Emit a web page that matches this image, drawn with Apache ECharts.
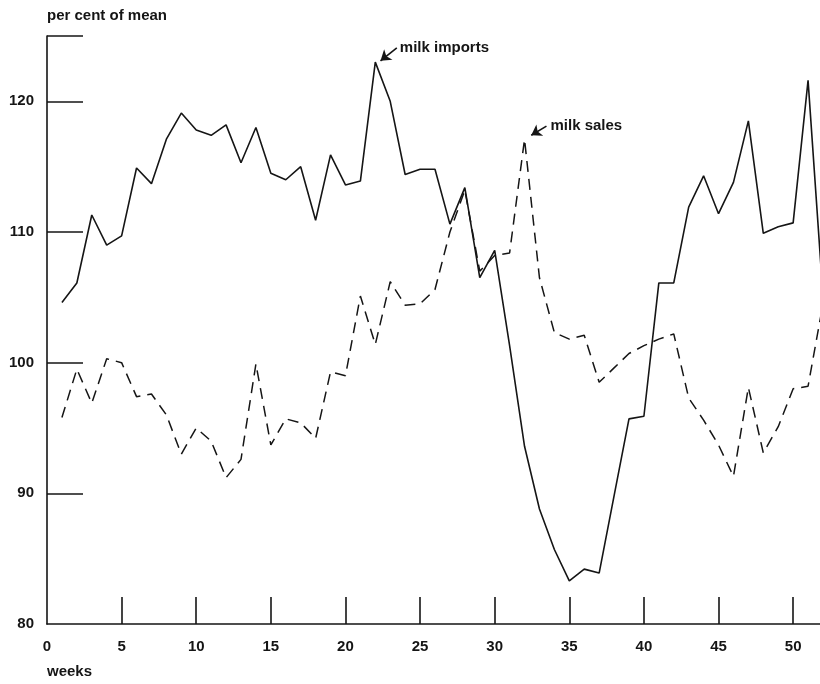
<!DOCTYPE html>
<html>
<head>
<meta charset="utf-8">
<script src="https://cdn.jsdelivr.net/npm/echarts@6/dist/echarts.min.js"></script>
<style>
  html, body { margin: 0; padding: 0; background: #fff; }
  #chart { width: 820px; height: 684px; }
</style>
</head>
<body>
<div id="chart"></div>
<script>
const weeks = [1,2,3,4,5,6,7,8,9,10,11,12,13,14,15,16,17,18,19,20,21,22,23,24,25,26,
               27,28,29,30,31,32,33,34,35,36,37,38,39,40,41,42,43,44,45,46,47,48,49,50,51,52];
const milkImports = [104.6,106.1,111.3,109.0,109.7,114.9,113.7,117.1,119.1,117.8,117.4,118.2,115.3,
                     118.0,114.5,114.0,115.0,110.9,115.9,113.6,113.9,123.0,120.0,114.4,114.8,114.8,
                     110.6,113.4,106.5,108.6,101.3,93.6,88.8,85.7,83.3,84.2,83.9,89.8,95.7,95.9,
                     106.1,106.1,111.9,114.3,111.4,113.8,118.5,109.9,110.4,110.7,121.6,105.1];
const milkSales = [95.8,99.5,96.9,100.3,100.0,97.4,97.6,96.0,93.0,95.0,94.0,91.2,92.6,
                   99.9,93.7,95.7,95.4,94.2,99.3,99.0,105.1,101.4,106.2,104.4,104.5,105.6,
                   110.0,113.2,107.0,108.2,108.4,117.1,106.5,102.3,101.8,102.1,98.5,99.6,100.7,101.3,
                   101.8,102.2,97.3,95.6,93.7,91.3,98.1,93.1,95.1,98.0,98.2,104.5];
const xTickLabels = [0,5,10,15,20,25,30,35,40,45,50];
const xTickMarks = [5,10,15,20,25,30,35,40,45,50];
const yTickLabels = [80,90,100,110,120];
const yTickMarks = [90,100,110,120,125];
const seriesNames = ['milk imports', 'milk sales'];

const FONT = '"Liberation Sans", Arial, Helvetica, sans-serif';
const INK = '#151515';
const textBase = { fontFamily: FONT, fontSize: 15, fontWeight: 'bold', color: INK };

const chart = echarts.init(document.getElementById('chart'));
chart.setOption({
  animation: false,
  backgroundColor: '#fff',
  title: [
    { text: 'per cent of mean', left: 47, top: 8, padding: 0, textStyle: textBase },
    { text: 'weeks', left: 47, top: 664, padding: 0, textStyle: textBase }
  ],
  grid: { left: 47, right: 0, top: 36, bottom: 60, outerBoundsMode: 'none' },
  xAxis: {
    type: 'value', min: 0, max: 51.8, interval: 5,
    splitLine: { show: false },
    axisLine: { show: true, lineStyle: { color: INK, width: 1.6 } },
    axisTick: { show: true, inside: true, length: 27, customValues: xTickMarks,
                lineStyle: { color: INK, width: 1.6 } },
    axisLabel: { show: true, margin: 15, customValues: xTickLabels, ...textBase }
  },
  yAxis: {
    type: 'value', min: 80, max: 125, interval: 10,
    splitLine: { show: false },
    axisLine: { show: true, lineStyle: { color: INK, width: 1.6 } },
    axisTick: { show: true, inside: true, length: 36, customValues: yTickMarks,
                lineStyle: { color: INK, width: 1.6 } },
    axisLabel: { show: true, margin: 13, customValues: yTickLabels, ...textBase }
  },
  series: [
    {
      name: seriesNames[0], type: 'line', symbol: 'none', clip: true,
      data: weeks.map((w, i) => [w, milkImports[i]]),
      lineStyle: { color: INK, width: 1.6, type: 'solid' },
      markLine: {
        silent: true, symbol: ['none', 'arrow'], symbolSize: 10,
        lineStyle: { color: INK, width: 1.6, type: 'solid' },
        label: { show: false },
        data: [[{ coord: [23.44, 124.1] }, { coord: [22.35, 123.1] }]]
      },
      markPoint: {
        silent: true, symbol: 'circle', symbolSize: 0,
        data: [{ coord: [23.44, 124.1] }],
        label: { show: true, position: 'right', distance: 3, formatter: seriesNames[0], ...textBase }
      }
    },
    {
      name: seriesNames[1], type: 'line', symbol: 'none', clip: true,
      data: weeks.map((w, i) => [w, milkSales[i]]),
      lineStyle: { color: INK, width: 1.5, type: [11, 7] },
      markLine: {
        silent: true, symbol: ['none', 'arrow'], symbolSize: 10,
        lineStyle: { color: INK, width: 1.6, type: 'solid' },
        label: { show: false },
        data: [[{ coord: [33.47, 118.1] }, { coord: [32.45, 117.4] }]]
      },
      markPoint: {
        silent: true, symbol: 'circle', symbolSize: 0,
        data: [{ coord: [33.47, 118.1] }],
        label: { show: true, position: 'right', distance: 4, formatter: seriesNames[1], ...textBase }
      }
    }
  ]
});
</script>
</body>
</html>
